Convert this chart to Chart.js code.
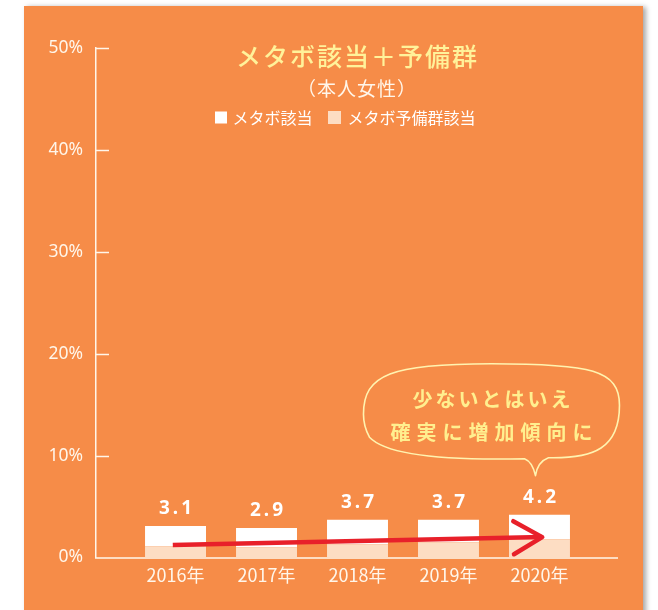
<!DOCTYPE html>
<html><head><meta charset="utf-8">
<script src="https://cdn.jsdelivr.net/npm/chart.js@4"></script>
<style>
html,body{margin:0;padding:0;background:#fff;width:658px;height:610px;overflow:hidden;}
#panel{position:absolute;left:24px;top:6px;width:619px;height:620px;background:#F68C48;box-shadow:3px 1px 5px rgba(0,0,0,0.35);}
#c{position:absolute;left:0;top:0;}
</style></head><body>
<div id="panel"></div>
<canvas id="c" width="658" height="610"></canvas>
<script>
// ---- data ----
const years = ['2016年','2017年','2018年','2019年','2020年'];
const yearIndex = [0,1,2,3,4];
const metabo = [2.0, 1.9, 2.4, 2.2, 2.4];   // メタボ該当 (white, top)
const yobi   = [1.1, 1.0, 1.3, 1.5, 1.8];   // メタボ予備群該当 (peach, bottom)
const yTicks = [0,10,20,30,40,50];
const seriesNames = ['メタボ該当','メタボ予備群該当'];
const titleText = 'メタボ該当＋予備群';
const subtitleText = '（本人女性）';
const bubbleLines = ['少ないとはいえ','確実に増加傾向に'];
const arrowFrom = {x:-0.03, y:1.23};
const arrowTo   = {x:4.03,  y:2.0};

const WHITE = '#FFFFFF', PEACH = '#FDDDC3', RED = '#E8202A';
const YELLOW = '#FFF29A', CREAM = '#FFF6EA';
const JP = '"Noto Sans CJK JP", "Noto Sans", sans-serif';

const decor = {
  id:'decor',
  afterDraw(chart){
    const ctx = chart.ctx, xs = chart.scales.x, ys = chart.scales.y, ca = chart.chartArea;
    ctx.save();
    // y tick marks (inward)
    ctx.strokeStyle = CREAM; ctx.lineWidth = 1.5;
    yTicks.forEach(v=>{ if(v===0) return; const py = Math.round(ys.getPixelForValue(v))+0.5;
      ctx.beginPath(); ctx.moveTo(ca.left, py); ctx.lineTo(ca.left+13, py); ctx.stroke(); });

    // totals above bars
    ctx.fillStyle = WHITE; ctx.font = 'bold 19px "Noto Sans", sans-serif';
    ctx.textAlign = 'center'; ctx.textBaseline = 'middle';
    ctx.letterSpacing = '3px';
    yearIndex.forEach((xi,i)=>{
      const tot = metabo[i] + yobi[i];
      const px = xs.getPixelForValue(xi) + 1.5, py = ys.getPixelForValue(tot) - 17;
      ctx.fillText(tot.toFixed(1), px, py);
    });
    ctx.letterSpacing = '0px';

    // red arrow
    const x0 = xs.getPixelForValue(arrowFrom.x), y0 = ys.getPixelForValue(arrowFrom.y);
    const x1 = xs.getPixelForValue(arrowTo.x), y1 = ys.getPixelForValue(arrowTo.y);
    ctx.strokeStyle = RED; ctx.lineWidth = 4.5; ctx.lineCap = 'butt'; ctx.lineJoin = 'round';
    ctx.beginPath(); ctx.moveTo(x0, y0); ctx.lineTo(x1, y1); ctx.stroke();
    const ang = Math.atan2(y1-y0, x1-x0), L = 33, a = Math.PI/6;
    ctx.lineCap = 'round';
    ctx.beginPath();
    ctx.moveTo(x1 - L*Math.cos(ang - a), y1 - L*Math.sin(ang - a));
    ctx.lineTo(x1, y1);
    ctx.lineTo(x1 - L*Math.cos(ang + a), y1 - L*Math.sin(ang + a));
    ctx.stroke();

    // speech bubble anchored above the 2020 bar
    const tipX = xs.getPixelForValue(yearIndex[4]) - 4;
    const tipY = ys.getPixelForValue(metabo[4] + yobi[4]) - 39;
    const cx = tipX - 44, cy = tipY - 64.5, w = 128, h = 47.5, k = 0.78;
    ctx.strokeStyle = '#FFF3B0'; ctx.lineWidth = 1.6; ctx.lineCap='round';
    ctx.beginPath();
    ctx.moveTo(cx - w, cy + 3);
    ctx.bezierCurveTo(cx - w, cy - k*h, cx - k*w, cy - h, cx, cy - h);
    ctx.bezierCurveTo(cx + k*w, cy - h, cx + w, cy - k*h - 4, cx + w, cy - 6);
    ctx.bezierCurveTo(cx + w, cy + k*h, cx + 0.8*w, cy + h, cx + 57, cy + h - 1);
    ctx.quadraticCurveTo(cx + 46, cy + h + 3, cx + 44, cy + h + 17);
    ctx.quadraticCurveTo(cx + 41, cy + h + 3, cx + 33, cy + h);
    ctx.bezierCurveTo(cx - 10, cy + h + 1, cx - k*w, cy + h + 2, cx - w + 6, cy + 26);
    ctx.quadraticCurveTo(cx - w, cy + 15, cx - w, cy + 3);
    ctx.stroke();
    ctx.fillStyle = '#FFEF8F'; ctx.font = 'bold 20px ' + JP; ctx.textAlign='center'; ctx.textBaseline='middle';
    ctx.letterSpacing = '3px'; ctx.fillText(bubbleLines[0], cx + 1.5, cy - 11.5);
    ctx.letterSpacing = '6px'; ctx.fillText(bubbleLines[1], cx + 3, cy + 21.5);
    ctx.letterSpacing = '0px';

    // title / subtitle / legend
    const mx = (ca.left + ca.right)/2;
    ctx.fillStyle = YELLOW; ctx.font = '500 25px ' + JP; ctx.letterSpacing = '2px';
    ctx.fillText(titleText, mx + 1, 56);
    ctx.fillStyle = CREAM; ctx.font = '19px ' + JP; ctx.letterSpacing = '1px';
    ctx.fillText(subtitleText, mx + 0.5, 89);
    ctx.letterSpacing = '0px';
    ctx.font = '16px ' + JP; ctx.textAlign = 'left';
    const ly = 117.5;
    ctx.fillStyle = WHITE; ctx.fillRect(mx - 141.5, ly - 6, 12, 12);
    ctx.fillText(seriesNames[0], mx - 124, ly);
    ctx.fillStyle = PEACH; ctx.fillRect(mx - 28.5, ly - 6.5, 13, 13);
    ctx.fillStyle = WHITE; ctx.fillText(seriesNames[1], mx - 9, ly);
    ctx.restore();
  }
};

new Chart(document.getElementById('c'), {
  type: 'bar',
  data: {
    datasets: [
      { label: seriesNames[1], data: yearIndex.map((x,i)=>({x, y: yobi[i]})), backgroundColor: PEACH },
      { label: seriesNames[0], data: yearIndex.map((x,i)=>({x, y: metabo[i]})), backgroundColor: WHITE }
    ]
  },
  options: {
    responsive: false, animation: false,
    layout: { padding: { left: 0, top: 48, right: 41, bottom: 0 } },
    datasets: { bar: { barPercentage: 0.67, categoryPercentage: 1.0, borderWidth: 0 } },
    plugins: { legend: { display: false }, tooltip: { enabled: false }, title: { display: false } },
    scales: {
      x: {
        type: 'linear', stacked: true, min: -0.874, max: 4.852, offset: false,
        afterBuildTicks: s => { s.ticks = yearIndex.map(v => ({ value: v })); },
        afterFit: s => { s.height = 52.5; },
        ticks: { callback: v => years[v] ?? '', color: CREAM, font: { family: JP, size: 18 }, padding: 7, autoSkip: false, maxRotation: 0 },
        grid: { display: false, drawTicks: false },
        border: { display: true, color: PEACH, width: 2 }
      },
      y: {
        stacked: true, min: 0, max: 50,
        afterBuildTicks: s => { s.ticks = yTicks.map(v => ({ value: v })); },
        afterFit: s => { s.width = 96; },
        ticks: { callback: v => v + '%', color: CREAM, font: { family: '"Noto Sans", sans-serif', size: 17.5 }, padding: 13 },
        grid: { display: false, drawTicks: false },
        border: { display: true, color: CREAM, width: 1.5 }
      }
    }
  },
  plugins: [decor]
});
</script>
</body></html>
